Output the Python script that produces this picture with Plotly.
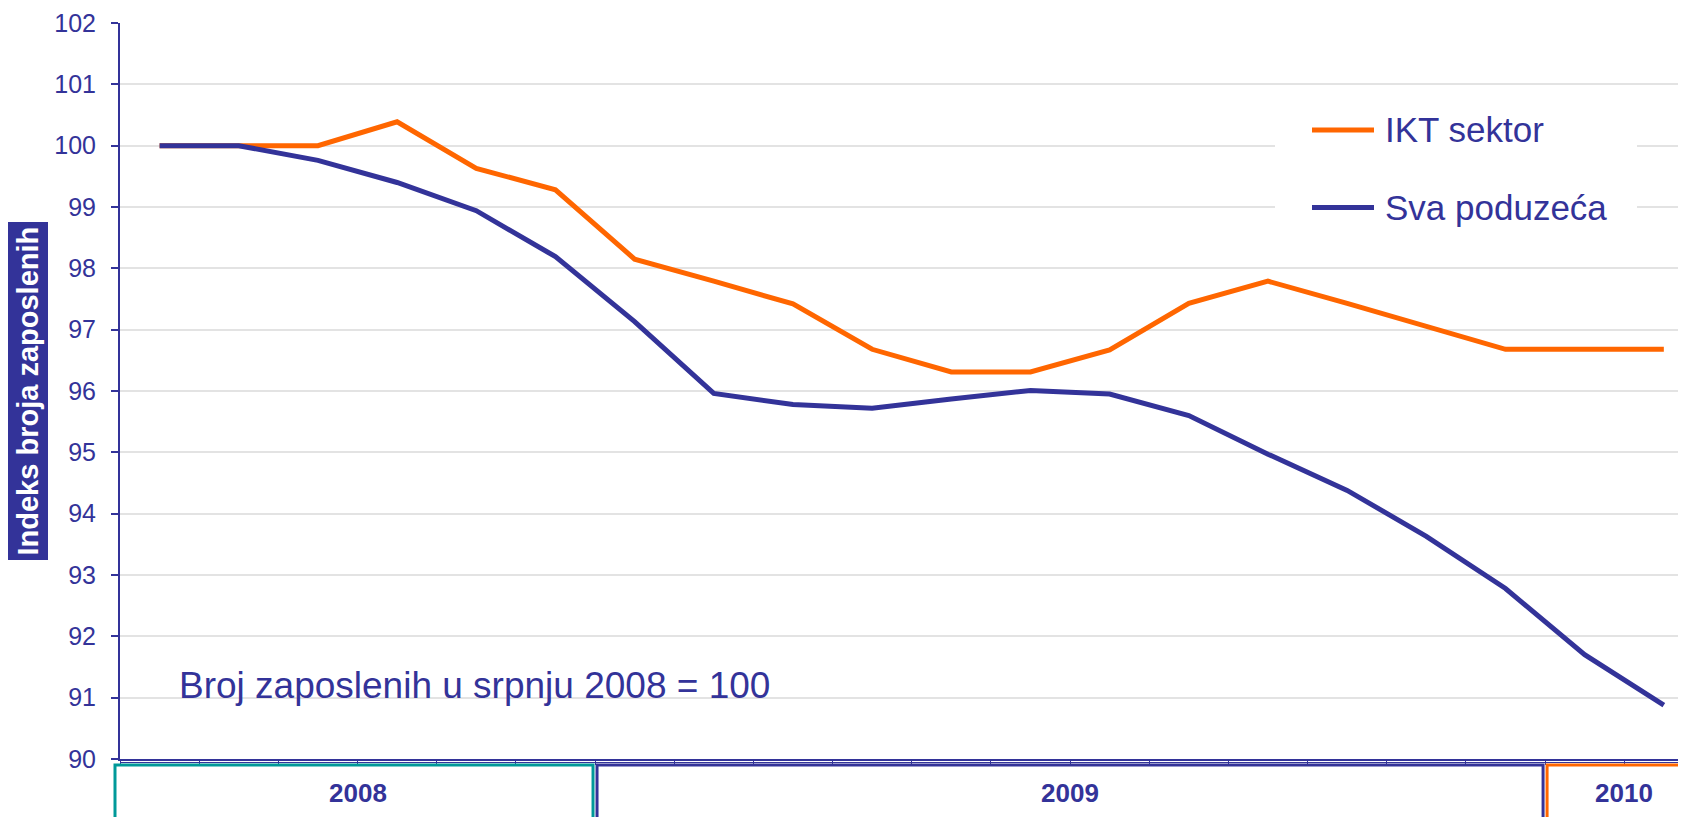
import plotly.graph_objects as go

# monthly index of employment, July 2008 = 100
months = ["2008-07", "2008-08", "2008-09", "2008-10", "2008-11", "2008-12",
          "2009-01", "2009-02", "2009-03", "2009-04", "2009-05", "2009-06",
          "2009-07", "2009-08", "2009-09", "2009-10", "2009-11", "2009-12",
          "2010-01", "2010-02"]
ikt_sektor = [100, 100, 100, 100.39, 99.63, 99.28, 98.15, 97.79, 97.42, 96.68,
              96.31, 96.31, 96.67, 97.43, 97.79, 97.43, 97.06, 96.68, 96.68, 96.68]
sva_poduzeca = [100, 100, 99.76, 99.40, 98.94, 98.19, 97.13, 95.96, 95.78, 95.72,
                95.87, 96.01, 95.95, 95.60, 94.97, 94.38, 93.63, 92.78, 91.70, 90.88]
series_names = ["IKT sektor", "Sva poduzeća"]
years = ["2008", "2009", "2010"]
months_per_year = [6, 12, 2]
y_ticks = list(range(90, 103))

BLUE = "#333399"
ORANGE = "#FF6600"
TEAL = "#009999"
FONT = "Liberation Sans, Arial, sans-serif"

# the page body has an 8px margin, so the figure is 8px smaller than the window
OFF = 8
W, H = 1686 - OFF, 817 - OFF
ML, MT, MB = 120 - OFF, 23 - OFF, 58
PLOT_W = W - ML
PLOT_H = H - MT - MB
X0, X1 = -0.5, 19.28


def xp(v):
    # data x -> paper x
    return (v - X0) / (X1 - X0)


def px_x(sx):
    # screen x -> paper x
    return (sx - OFF - ML) / PLOT_W


def px_y(sy):
    # screen y -> paper y
    return (MT + PLOT_H - (sy - OFF)) / PLOT_H


fig = go.Figure()
series = [(series_names[0], ikt_sektor, ORANGE), (series_names[1], sva_poduzeca, BLUE)]
for name, vals, col in series:
    fig.add_trace(go.Scatter(x=months, y=vals, mode="lines", name=name,
                             line=dict(color=col, width=5), showlegend=False))

shapes = []
annotations = []

# second thin line under the category axis
shapes.append(dict(type="line", xref="paper", yref="paper", x0=0, x1=1,
                   y0=-3.5 / PLOT_H, y1=-3.5 / PLOT_H, line=dict(color=BLUE, width=1)))

# year boxes below the axis
box_cols = [TEAL, BLUE, ORANGE]
start = 0
for i, (yr, n) in enumerate(zip(years, months_per_year)):
    left = xp(start - 0.5) + (2 if i else -5) / PLOT_W
    right = xp(start + n - 0.5) - 2 / PLOT_W
    if i == len(years) - 1:
        right = 1.1
    shapes.append(dict(type="rect", xref="paper", yref="paper", x0=left, x1=right,
                       y0=-6 / PLOT_H, y1=-0.3, line=dict(color=box_cols[i], width=3)))
    annotations.append(dict(x=xp(start + (n - 1) / 2), y=-34 / PLOT_H, xref="paper", yref="paper",
                            text="<b>%s</b>" % yr, showarrow=False,
                            xanchor="center", yanchor="middle",
                            font=dict(family=FONT, size=26, color=BLUE)))
    start += n

# legend drawn by hand (white box over the gridlines, long line samples)
shapes.append(dict(type="rect", xref="paper", yref="paper",
                   x0=px_x(1275), x1=px_x(1637), y0=px_y(250), y1=px_y(100),
                   fillcolor="white", line=dict(width=0), layer="above"))
for k, (name, vals, col) in enumerate(series):
    yp = px_y(130 + k * 77.5)
    shapes.append(dict(type="line", xref="paper", yref="paper",
                       x0=px_x(1312), x1=px_x(1374), y0=yp, y1=yp,
                       line=dict(color=col, width=5)))
    annotations.append(dict(x=px_x(1383), y=yp, xref="paper", yref="paper",
                            text=name, showarrow=False, xanchor="left", yanchor="middle",
                            font=dict(family=FONT, size=35, color=BLUE)))

# base note
annotations.append(dict(x=0.22, y=91.2, xref="x", yref="y",
                        text="Broj zaposlenih u srpnju 2008 = 100", showarrow=False,
                        xanchor="left", yanchor="middle",
                        font=dict(family=FONT, size=37, color=BLUE)))

# y axis title in a filled box
annotations.append(dict(x=px_x(27.5), y=px_y(391), xref="paper", yref="paper",
                        text="<b>Indeks broja zaposlenih</b>", showarrow=False, textangle=-90,
                        xanchor="center", yanchor="middle",
                        bgcolor=BLUE, borderpad=4,
                        font=dict(family=FONT, size=29, color="white")))

fig.update_layout(
    width=W, height=H,
    margin=dict(l=ML, r=0, t=MT, b=MB, pad=0),
    paper_bgcolor="white", plot_bgcolor="white",
    font=dict(family=FONT, color=BLUE),
    shapes=shapes, annotations=annotations,
    hovermode=False,
)
fig.update_xaxes(type="category", range=[X0, X1], tickson="boundaries",
                 showticklabels=False, ticks="outside", ticklen=4, tickwidth=1,
                 tickcolor=BLUE, showline=True, linecolor=BLUE, linewidth=1.5,
                 showgrid=False, zeroline=False)
fig.update_yaxes(range=[90, 102], tickvals=y_ticks, ticks="outside", ticklen=7,
                 tickwidth=1.5, tickcolor=BLUE, ticklabelstandoff=10,
                 tickfont=dict(family=FONT, size=25, color=BLUE),
                 showline=True, linecolor=BLUE, linewidth=2,
                 showgrid=True, gridcolor="#E3E3E3", gridwidth=1.5, zeroline=False)

fig.write_html("out.html")
